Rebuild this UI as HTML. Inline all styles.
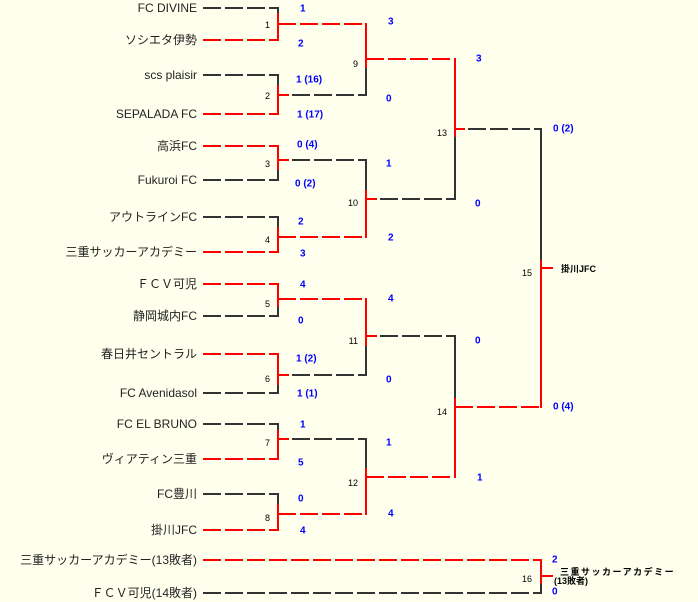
<!DOCTYPE html>
<html><head><meta charset="utf-8"><style>
html,body{margin:0;padding:0;background:#ffffee;}
svg{display:block;}
.d{stroke:#333;stroke-width:2;fill:none;stroke-dasharray:18 4;}
.r{stroke:#f00;stroke-width:2;fill:none;stroke-dasharray:18 4;}
.vd{stroke:#333;stroke-width:2;fill:none;}
.vr{stroke:#f00;stroke-width:2;fill:none;}
.t{font-family:"Liberation Sans","Noto Sans CJK JP",sans-serif;font-size:12px;fill:#222;text-anchor:end;dominant-baseline:central;}
.n{font-family:"Liberation Sans",sans-serif;font-size:9px;fill:#000;text-anchor:end;}
.s{font-family:"Liberation Sans",sans-serif;font-size:10px;font-weight:bold;fill:#00f;dominant-baseline:central;}
.w{font-family:"Liberation Sans","Noto Sans CJK JP",sans-serif;font-size:9px;font-weight:bold;fill:#000;}
</style></head><body>
<svg width="698" height="602" viewBox="0 0 698 602" xmlns="http://www.w3.org/2000/svg">
<text class="t" x="197" y="8">FC DIVINE</text>
<text class="t" x="197" y="40">ソシエタ伊勢</text>
<text class="t" x="197" y="75">scs plaisir</text>
<text class="t" x="197" y="114">SEPALADA FC</text>
<text class="t" x="197" y="146">高浜FC</text>
<text class="t" x="197" y="180">Fukuroi FC</text>
<text class="t" x="197" y="217">アウトラインFC</text>
<text class="t" x="197" y="252">三重サッカーアカデミー</text>
<text class="t" x="197" y="284">ＦＣＶ可児</text>
<text class="t" x="197" y="316">静岡城内FC</text>
<text class="t" x="197" y="354">春日井セントラル</text>
<text class="t" x="197" y="393">FC Avenidasol</text>
<text class="t" x="197" y="424">FC EL BRUNO</text>
<text class="t" x="197" y="459">ヴィアティン三重</text>
<text class="t" x="197" y="494">FC豊川</text>
<text class="t" x="197" y="530">掛川JFC</text>
<text class="t" x="197" y="560">三重サッカーアカデミー(13敗者)</text>
<text class="t" x="197" y="593">ＦＣＶ可児(14敗者)</text>

<line class="d" x1="203" y1="8" x2="278" y2="8"/>
<line class="r" x1="203" y1="40" x2="278" y2="40"/>
<line class="d" x1="203" y1="75" x2="278" y2="75"/>
<line class="r" x1="203" y1="114" x2="278" y2="114"/>
<line class="r" x1="203" y1="146" x2="278" y2="146"/>
<line class="d" x1="203" y1="180" x2="278" y2="180"/>
<line class="d" x1="203" y1="217" x2="278" y2="217"/>
<line class="r" x1="203" y1="252" x2="278" y2="252"/>
<line class="r" x1="203" y1="284" x2="278" y2="284"/>
<line class="d" x1="203" y1="316" x2="278" y2="316"/>
<line class="r" x1="203" y1="354" x2="278" y2="354"/>
<line class="d" x1="203" y1="393" x2="278" y2="393"/>
<line class="d" x1="203" y1="424" x2="278" y2="424"/>
<line class="r" x1="203" y1="459" x2="278" y2="459"/>
<line class="d" x1="203" y1="494" x2="278" y2="494"/>
<line class="r" x1="203" y1="530" x2="278" y2="530"/>
<line class="r" x1="203" y1="560" x2="541" y2="560"/>
<line class="d" x1="203" y1="593" x2="541" y2="593"/>

<line class="vd" x1="278" y1="7" x2="278" y2="13"/><line class="vr" x1="278" y1="13" x2="278" y2="41"/>
<line class="vd" x1="278" y1="74" x2="278" y2="85"/><line class="vr" x1="278" y1="85" x2="278" y2="115"/>
<line class="vr" x1="278" y1="145" x2="278" y2="170"/><line class="vd" x1="278" y1="170" x2="278" y2="181"/>
<line class="vd" x1="278" y1="216" x2="278" y2="227"/><line class="vr" x1="278" y1="227" x2="278" y2="253"/>
<line class="vr" x1="278" y1="283" x2="278" y2="307"/><line class="vd" x1="278" y1="307" x2="278" y2="317"/>
<line class="vr" x1="278" y1="353" x2="278" y2="385"/><line class="vd" x1="278" y1="385" x2="278" y2="394"/>
<line class="vd" x1="278" y1="423" x2="278" y2="430"/><line class="vr" x1="278" y1="430" x2="278" y2="460"/>
<line class="vd" x1="278" y1="493" x2="278" y2="504"/><line class="vr" x1="278" y1="504" x2="278" y2="531"/>

<line class="r" x1="278" y1="24" x2="366" y2="24"/>
<line class="vr" x1="278" y1="95" x2="289" y2="95"/><line class="d" x1="292" y1="95" x2="366" y2="95"/>
<line class="vr" x1="278" y1="160" x2="289" y2="160"/><line class="d" x1="292" y1="160" x2="366" y2="160"/>
<line class="r" x1="278" y1="237" x2="366" y2="237"/>
<line class="r" x1="278" y1="299" x2="366" y2="299"/>
<line class="vr" x1="278" y1="375" x2="289" y2="375"/><line class="d" x1="292" y1="375" x2="366" y2="375"/>
<line class="vr" x1="278" y1="439" x2="289" y2="439"/><line class="d" x1="292" y1="439" x2="366" y2="439"/>
<line class="r" x1="278" y1="514" x2="366" y2="514"/>

<line class="vr" x1="366" y1="23" x2="366" y2="68"/><line class="vd" x1="366" y1="68" x2="366" y2="96"/>
<line class="vd" x1="366" y1="159" x2="366" y2="190"/><line class="vr" x1="366" y1="190" x2="366" y2="238"/>
<line class="vr" x1="366" y1="298" x2="366" y2="346"/><line class="vd" x1="366" y1="346" x2="366" y2="376"/>
<line class="vd" x1="366" y1="438" x2="366" y2="468"/><line class="vr" x1="366" y1="468" x2="366" y2="515"/>

<line class="r" x1="366" y1="59" x2="455" y2="59"/>
<line class="vr" x1="366" y1="199" x2="377" y2="199"/><line class="d" x1="380" y1="199" x2="455" y2="199"/>
<line class="vr" x1="366" y1="336" x2="377" y2="336"/><line class="d" x1="380" y1="336" x2="455" y2="336"/>
<line class="r" x1="366" y1="477" x2="455" y2="477"/>

<line class="vr" x1="455" y1="58" x2="455" y2="137"/><line class="vd" x1="455" y1="137" x2="455" y2="200"/>
<line class="vd" x1="455" y1="335" x2="455" y2="398"/><line class="vr" x1="455" y1="398" x2="455" y2="478"/>

<line class="vr" x1="455" y1="129" x2="465" y2="129"/><line class="d" x1="468" y1="129" x2="541" y2="129"/>
<line class="r" x1="455" y1="407" x2="541" y2="407"/>

<line class="vd" x1="541" y1="128" x2="541" y2="260"/><line class="vr" x1="541" y1="260" x2="541" y2="408"/>
<line class="vr" x1="541" y1="268" x2="553" y2="268"/>

<line class="vr" x1="541" y1="559" x2="541" y2="584"/><line class="vd" x1="541" y1="584" x2="541" y2="594"/>
<line class="vr" x1="541" y1="576" x2="553" y2="576"/>

<text class="n" x="270" y="28">1</text>
<text class="n" x="270" y="99">2</text>
<text class="n" x="270" y="167">3</text>
<text class="n" x="270" y="243">4</text>
<text class="n" x="270" y="307">5</text>
<text class="n" x="270" y="382">6</text>
<text class="n" x="270" y="446">7</text>
<text class="n" x="270" y="521">8</text>
<text class="n" x="358" y="67">9</text>
<text class="n" x="358" y="206">10</text>
<text class="n" x="358" y="344">11</text>
<text class="n" x="358" y="486">12</text>
<text class="n" x="447" y="136">13</text>
<text class="n" x="447" y="415">14</text>
<text class="n" x="532" y="276">15</text>
<text class="n" x="532" y="582">16</text>

<text class="s" x="300" y="9">1</text>
<text class="s" x="298" y="44">2</text>
<text class="s" x="296" y="80">1 (16)</text>
<text class="s" x="297" y="115">1 (17)</text>
<text class="s" x="297" y="145">0 (4)</text>
<text class="s" x="295" y="184">0 (2)</text>
<text class="s" x="298" y="222">2</text>
<text class="s" x="300" y="254">3</text>
<text class="s" x="300" y="285">4</text>
<text class="s" x="298" y="321">0</text>
<text class="s" x="296" y="359">1 (2)</text>
<text class="s" x="297" y="394">1 (1)</text>
<text class="s" x="300" y="425">1</text>
<text class="s" x="298" y="463">5</text>
<text class="s" x="298" y="499">0</text>
<text class="s" x="300" y="531">4</text>
<text class="s" x="388" y="22">3</text>
<text class="s" x="386" y="99">0</text>
<text class="s" x="386" y="164">1</text>
<text class="s" x="388" y="238">2</text>
<text class="s" x="388" y="299">4</text>
<text class="s" x="386" y="380">0</text>
<text class="s" x="386" y="443">1</text>
<text class="s" x="388" y="514">4</text>
<text class="s" x="476" y="59">3</text>
<text class="s" x="475" y="204">0</text>
<text class="s" x="475" y="341">0</text>
<text class="s" x="477" y="478">1</text>
<text class="s" x="553" y="129">0 (2)</text>
<text class="s" x="553" y="407">0 (4)</text>
<text class="s" x="552" y="560">2</text>
<text class="s" x="552" y="592">0</text>

<text class="w" x="561" y="272">掛川JFC</text>
<text class="w" x="560" y="575" letter-spacing="1.5">三重サッカーアカデミー</text>
<text class="w" x="554" y="584">(13敗者)</text>
</svg>
</body></html>
